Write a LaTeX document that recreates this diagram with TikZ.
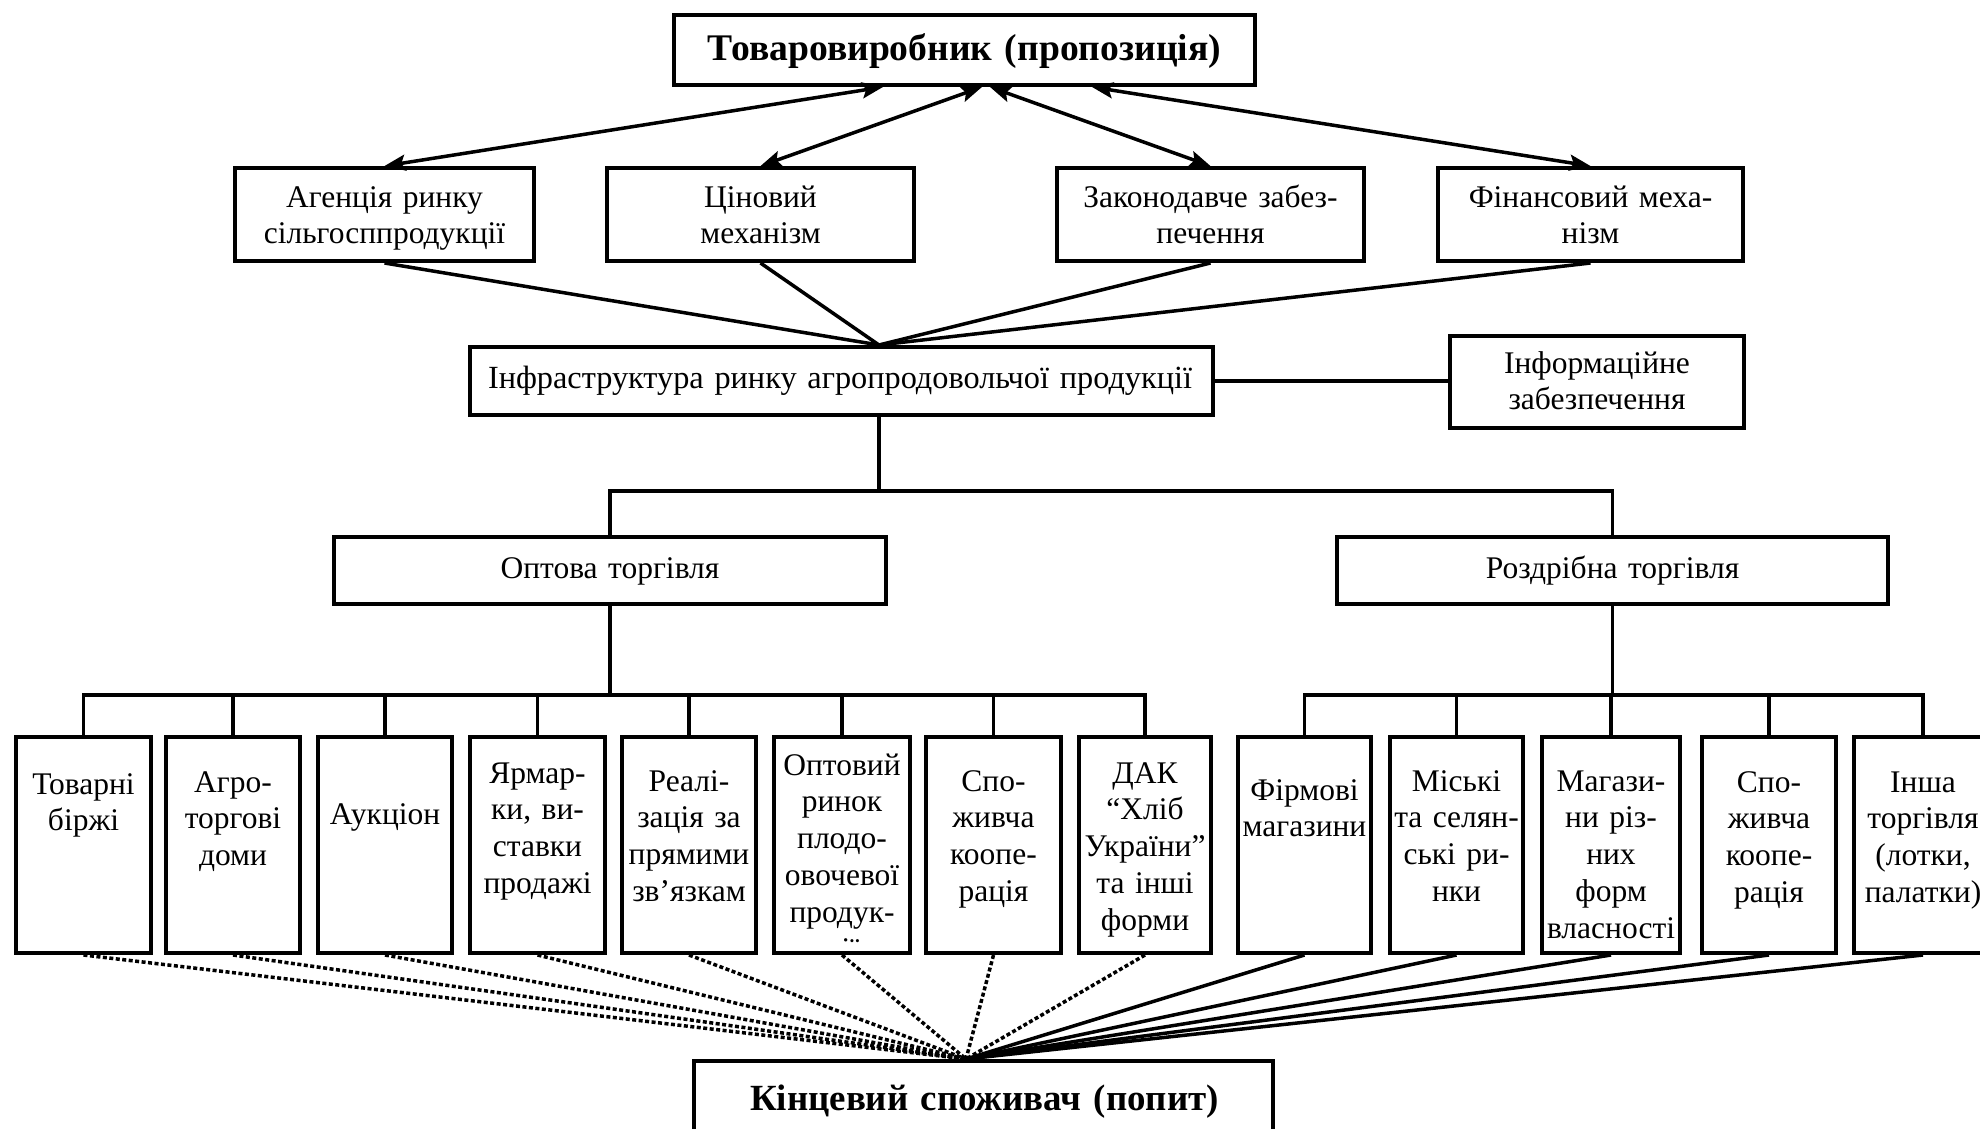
\documentclass[tikz,border=0pt]{standalone}
\usepackage{fontspec}
\setmainfont{Liberation Serif}
\usetikzlibrary{arrows.meta}
\newcommand\fsnorm{\fontsize{31.5}{36.8}\selectfont}
\newcommand\fsinfra{\fontsize{32.3}{36.8}\selectfont}
\newcommand\fsbig{\fontsize{37.6}{44}\selectfont\bfseries}
\newcommand\fsbigb{\fontsize{36.9}{44}\selectfont\bfseries}
\begin{document}
\begin{tikzpicture}[x=1pt,y=-1pt,
  box/.style={draw, line width=4pt, inner sep=0pt},
  sbox/.style={box, minimum height=216pt},
  lbl/.style={anchor=base, text width=150pt, align=center, inner sep=0pt, font=\fsnorm},
  wlbl/.style={lbl, text width=780pt},
  ln/.style={line width=3.5pt},
  dotln/.style={line width=3.5pt, dash pattern=on 4pt off 2.5pt},
  arr/.style={line width=3.5pt, {Stealth[length=21pt,width=16pt,inset=4pt]}-{Stealth[length=21pt,width=16pt,inset=4pt]}}
]
\useasboundingbox (0,0) rectangle (1980,1129);

% top
\node[box, minimum width=581pt, minimum height=70pt] (top) at (964.5,50) {};
\node[wlbl, font=\fsbig] (ttop) at (964.5,61) {Товаровиробник (пропозиція)};

% second row
\node[box, minimum width=299pt, minimum height=93pt] (agency) at (384.5,214.5) {};
\node[box, minimum width=307pt, minimum height=93pt] (price) at (760.5,214.5) {};
\node[box, minimum width=307pt, minimum height=93pt] (legis) at (1210.5,214.5) {};
\node[box, minimum width=305pt, minimum height=93pt] (fin) at (1590.5,214.5) {};
\node[wlbl] (tagency) at (agency.center |- 0,207) {Агенція ринку\\сільгосппродукції};
\node[wlbl] (tprice) at (price.center |- 0,207) {Ціновий\\механізм};
\node[wlbl] (tlegis) at (legis.center |- 0,207) {Законодавче забез-\\печення};
\node[wlbl] (tfin) at (fin.center |- 0,207) {Фінансовий меха-\\нізм};

% arrows
\coordinate (a1) at (top.south -| 883,0);
\coordinate (a2) at (top.south -| 982,0);
\coordinate (a3) at (top.south -| 990,0);
\coordinate (a4) at (top.south -| 1092,0);
\draw[arr] (a1) -- (agency.north);
\draw[arr] (a2) -- (price.north);
\draw[arr] (a3) -- (legis.north);
\draw[arr] (a4) -- (fin.north);

% infrastructure
\node[box, minimum width=743pt, minimum height=68pt] (infra) at (841.5,381) {};
\node[wlbl, font=\fsinfra] (tinfra) at (840,388) {Інфраструктура ринку агропродовольчої продукції};
\node[box, minimum width=294pt, minimum height=92pt] (info) at (1597,382) {};
\node[wlbl] (tinfo) at (1597,373) {Інформаційне\\забезпечення};
\coordinate (ic) at (infra.north -| 879,0);
\draw[ln] (agency.south) -- (ic);
\draw[ln] (price.south) -- (ic);
\draw[ln] (legis.south) -- (ic);
\draw[ln] (fin.south) -- (ic);
\draw[ln] (infra.east) -- (info.west |- infra.east);

% wholesale / retail
\node[box, minimum width=552pt, minimum height=67pt] (opt) at (610,570.5) {};
\node[box, minimum width=551pt, minimum height=67pt] (retail) at (1612.5,570.5) {};
\node[wlbl] (topt) at (610,578) {Оптова торгівля};
\node[wlbl] (tretail) at (1612.5,578) {Роздрібна торгівля};
\coordinate (bus1) at (879,491);
\draw[ln] (infra.south -| bus1) -- (bus1);
\draw[ln] (opt.north) |- (bus1) -| (retail.north);

% bottom boxes
\node[sbox, minimum width=135pt] (b1) at (83.5,845) {};
\node[sbox, minimum width=134pt] (b2) at (233,845) {};
\node[sbox, minimum width=134pt] (b3) at (385,845) {};
\node[sbox, minimum width=135pt] (b4) at (537.5,845) {};
\node[sbox, minimum width=134pt] (b5) at (689,845) {};
\node[sbox, minimum width=136pt] (b6) at (842,845) {};
\node[sbox, minimum width=135pt] (b7) at (993.5,845) {};
\node[sbox, minimum width=132pt] (b8) at (1145,845) {};
\node[sbox, minimum width=133pt] (b9) at (1304.5,845) {};
\node[sbox, minimum width=133pt] (b10) at (1456.5,845) {};
\node[sbox, minimum width=138pt] (b11) at (1611,845) {};
\node[sbox, minimum width=134pt] (b12) at (1769,845) {};
\node[sbox, minimum width=138pt] (b13) at (1923,845) {};

\node[lbl] (t1) at (83.5,794) {Товарні\\біржі};
\node[lbl] (t2) at (233,792) {Агро-\\торгові\\доми};
\node[lbl] (t3) at (385,824) {Аукціон};
\node[lbl] (t4) at (537.5,783) {Ярмар-\\ки, ви-\\ставки\\продажі};
\node[lbl] (t5) at (689,791) {Реалі-\\зація за\\прямими\\зв’язкам};
\begin{scope}
\clip (772,740) rectangle (912,942.5);
\node[lbl] (t6) at (842,775) {Оптовий\\ринок\\плодо-\\овочевої\\продук-\\ції};
\end{scope}
\node[lbl] (t7) at (993.5,791) {Спо-\\живча\\коопе-\\рація};
\node[lbl] (t8) at (1145,783) {ДАК\\“Хліб\\України”\\та інші\\форми};
\node[lbl] (t9) at (1304.5,800) {Фірмові\\магазини};
\node[lbl] (t10) at (1456.5,791) {Міські\\та селян-\\ські ри-\\нки};
\node[lbl] (t11) at (1611,791) {Магази-\\ни різ-\\них\\форм\\власності};
\node[lbl] (t12) at (1769,792) {Спо-\\живча\\коопе-\\рація};
\node[lbl] (t13) at (1923,792) {Інша\\торгівля\\(лотки,\\палатки)};

% buses to bottom boxes
\coordinate (busL) at (610,695);
\coordinate (busR) at (1612.5,695);
\draw[ln] (opt.south) -- (busL);
\draw[ln] (b1.north) |- (b8.north |- busL) -- (b8.north);
\foreach \i in {2,...,7} {\draw[ln] (b\i.north) -- (b\i.north |- busL);}
\draw[ln] (retail.south) -- (busR);
\draw[ln] (b9.north) |- (b13.north |- busR) -- (b13.north);
\foreach \i in {10,11,12} {\draw[ln] (b\i.north) -- (b\i.north |- busR);}

% consumer
\node[box, minimum width=579pt, minimum height=82pt] (cons) at (983.5,1102) {};
\node[wlbl, font=\fsbigb] (tcons) at (984.5,1110) {Кінцевий споживач (попит)};
\coordinate (cv) at (cons.north -| 966,0);
\foreach \i in {1,...,8} {\draw[dotln] (b\i.south) -- (cv);}
\foreach \i in {9,...,13} {\draw[ln] (b\i.south) -- (cv);}
\end{tikzpicture}
\end{document}
